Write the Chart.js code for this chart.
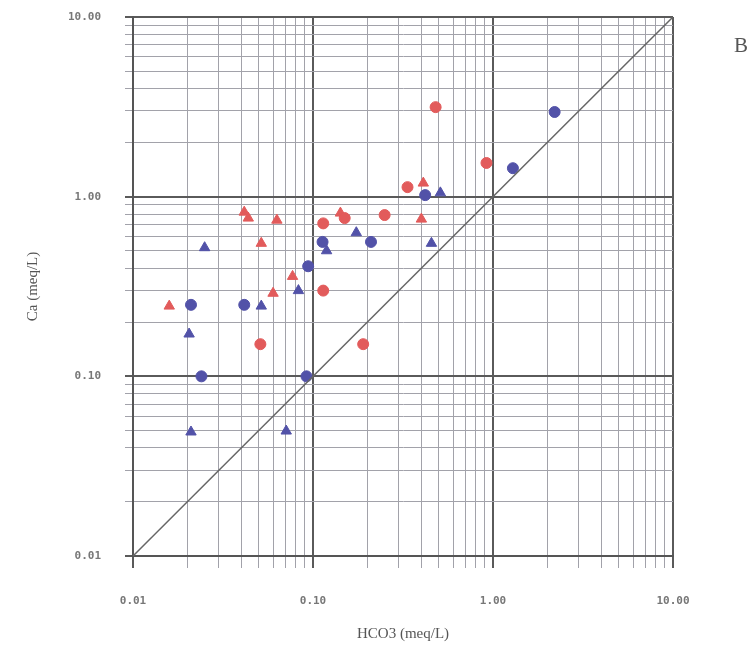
<!DOCTYPE html>
<html>
<head>
<meta charset="utf-8">
<script src="https://cdn.jsdelivr.net/npm/chart.js@4.4.1/dist/chart.umd.min.js"></script>
<style>
  body { margin: 0; background: #fff; }
  #wrap { position: relative; width: 755px; height: 647px; }
  #panel { position: absolute; left: 734px; top: 33px; font: 21px "Liberation Serif", serif; color: #555; }
</style>
</head>
<body>
<div id="wrap">
  <canvas id="caChart" width="755" height="647"></canvas>
  <div id="panel">B</div>
</div>
<script>
// axis decades and their labels
const decades = [0.01, 0.1, 1, 10];
const tickLabels = ['0.01', '0.10', '1.00', '10.00'];

// red circles
const redCirclesX = [0.48, 0.92, 0.335, 0.25, 0.15, 0.114, 0.114, 0.051, 0.19];
const redCirclesY = [3.15, 1.54, 1.13, 0.79, 0.76, 0.71, 0.30, 0.151, 0.151];
// red triangles
const redTrianglesX = [0.0159, 0.0415, 0.0437, 0.063, 0.0516, 0.077, 0.060, 0.142, 0.41, 0.40];
const redTrianglesY = [0.246, 0.82, 0.76, 0.74, 0.55, 0.36, 0.29, 0.81, 1.19, 0.75];
// blue circles
const blueCirclesX = [2.2, 1.29, 0.42, 0.21, 0.113, 0.094, 0.021, 0.0415, 0.024, 0.092];
const blueCirclesY = [2.96, 1.44, 1.02, 0.56, 0.56, 0.41, 0.25, 0.25, 0.10, 0.10];
// blue triangles
const blueTrianglesX = [0.025, 0.0205, 0.0516, 0.083, 0.119, 0.174, 0.455, 0.51, 0.021, 0.071];
const blueTrianglesY = [0.52, 0.172, 0.246, 0.30, 0.50, 0.63, 0.55, 1.05, 0.049, 0.0496];
// 1:1 line
const oneToOne = [0.01, 10];

const RED = '#e25b5b';
const BLUE = '#5252a8';

const pts = (xs, ys) => xs.map((x, i) => ({ x: x, y: ys[i] }));

const isMajor = (v) => decades.some((d) => Math.abs(v - d) / d < 1e-6);

// log grid: 1..9 in each decade
const gridTicks = [];
decades.forEach((d, i) => {
  if (i === decades.length - 1) {
    gridTicks.push(d);
    return;
  }
  for (let k = 1; k <= 9; k++) gridTicks.push(parseFloat((k * d).toPrecision(6)));
});

const tickText = (v) => {
  const idx = decades.findIndex((d) => Math.abs(v - d) / d < 1e-6);
  return idx >= 0 ? tickLabels[idx] : '';
};

const gridOpts = (len) => ({
  color: (c) => (c.tick && isMajor(c.tick.value) ? '#5a5a5a' : '#a2a2aa'),
  lineWidth: (c) => (c.tick && isMajor(c.tick.value) ? 2 : 1),
  tickLength: len,
  drawTicks: true
});

const tickFont = { family: '"DejaVu Sans Mono", monospace', size: 11, weight: 'bold' };
const titleFont = { family: '"Liberation Serif", serif', size: 15 };

new Chart(document.getElementById('caChart'), {
  type: 'scatter',
  data: {
    datasets: [
      {
        type: 'line',
        data: pts(oneToOne, oneToOne),
        borderColor: '#666',
        borderWidth: 1.5,
        pointRadius: 0,
        fill: false
      },
      {
        data: pts(redCirclesX, redCirclesY),
        pointStyle: 'circle',
        pointRadius: 5.5,
        backgroundColor: RED,
        borderColor: RED
      },
      {
        data: pts(redTrianglesX, redTrianglesY),
        pointStyle: 'triangle',
        pointRadius: 6,
        backgroundColor: RED,
        borderColor: RED
      },
      {
        data: pts(blueCirclesX, blueCirclesY),
        pointStyle: 'circle',
        pointRadius: 5.5,
        backgroundColor: BLUE,
        borderColor: BLUE
      },
      {
        data: pts(blueTrianglesX, blueTrianglesY),
        pointStyle: 'triangle',
        pointRadius: 6,
        backgroundColor: BLUE,
        borderColor: BLUE
      }
    ]
  },
  options: {
    responsive: false,
    animation: false,
    devicePixelRatio: 1,
    layout: { padding: { top: 17, right: 82, left: 0, bottom: 0 } },
    plugins: { legend: { display: false }, tooltip: { enabled: false } },
    scales: {
      x: {
        type: 'logarithmic',
        min: 0.01,
        max: 10,
        afterBuildTicks: (scale) => { scale.ticks = gridTicks.map((v) => ({ value: v })); },
        afterFit: (scale) => {
          scale.height = 91;
          scale.paddingLeft = 0;
          scale.paddingRight = 0;
        },
        grid: gridOpts(12),
        border: { display: true, color: '#555', width: 2 },
        ticks: {
          autoSkip: false,
          maxRotation: 0,
          minRotation: 0,
          padding: 27,
          color: '#777',
          font: tickFont,
          callback: (v) => tickText(v)
        },
        title: {
          display: true,
          text: 'HCO3 (meq/L)',
          color: '#555',
          font: titleFont,
          padding: { top: 0, bottom: 4 }
        }
      },
      y: {
        type: 'logarithmic',
        min: 0.01,
        max: 10,
        afterBuildTicks: (scale) => { scale.ticks = gridTicks.map((v) => ({ value: v })); },
        afterFit: (scale) => {
          scale.width = 133;
          scale.paddingTop = 0;
          scale.paddingBottom = 0;
        },
        grid: gridOpts(8),
        border: { display: true, color: '#555', width: 2 },
        ticks: {
          autoSkip: false,
          padding: 24,
          color: '#777',
          font: tickFont,
          callback: (v) => tickText(v)
        },
        title: {
          display: true,
          text: 'Ca (meq/L)',
          color: '#555',
          font: titleFont,
          padding: { top: 24, bottom: 0 }
        }
      }
    }
  }
});
</script>
</body>
</html>
